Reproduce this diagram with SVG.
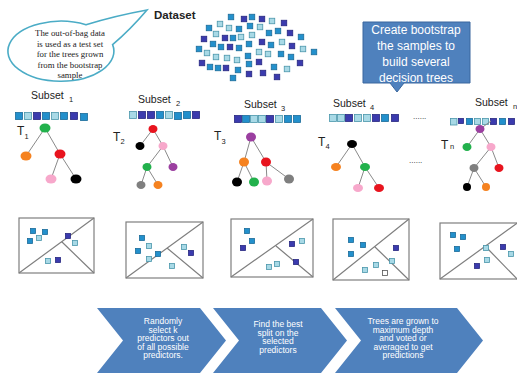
<svg xmlns="http://www.w3.org/2000/svg" width="517" height="377" viewBox="0 0 517 377">
  <style>
    .m { fill: #2390cc; stroke: #1b6c9a; stroke-width: 0.8; }
    .d { fill: #3b3bae; stroke: #272780; stroke-width: 0.8; }
    .l { fill: #a8d9e6; stroke: #4a96ab; stroke-width: 0.8; }
    .w { fill: #ffffff; stroke: #555555; stroke-width: 0.8; }
    .lbl { font-family: "Liberation Sans", Arial, sans-serif; fill: #222222; }
    .sub { font-size: 7.5px; }
    .edge { stroke: #8a8a8a; stroke-width: 1; fill: none; }
    .box { fill: #ffffff; stroke: #7f7f7f; stroke-width: 1.2; }
    .split { stroke: #7f7f7f; stroke-width: 1.2; fill: none; }
    .chev { fill: #4f81bd; }
    .wt { font-family: "Liberation Sans", Arial, sans-serif; fill: #ffffff; text-anchor: middle; }
    .green { fill: #22b14c; } .red { fill: #e8141e; } .orange { fill: #f58220; }
    .pink { fill: #f7a8cb; } .black { fill: #000000; } .purple { fill: #9b3fa0; } .grey { fill: #7f7f7f; }
  </style>

  <!-- Speech bubble -->
  <g id="oob-bubble">
    <path d="M86,24.8 A53,30 0 1 0 112.6,44.6 Q130,30 147,10 Q114,16 86,24.8 Z" fill="#ffffff" stroke="#4bacc6" stroke-width="1.6"/>
    <g font-family="Liberation Serif, 'Times New Roman', serif" font-size="8.8" fill="#222222" text-anchor="middle">
      <text x="70" y="36">The out-of-bag data</text>
      <text x="70" y="46.5">is used as a test set</text>
      <text x="70" y="57">for the trees grown</text>
      <text x="70" y="67.5">from the bootstrap</text>
      <text x="70" y="78">sample</text>
    </g>
  </g>

  <!-- Dataset cloud -->
  <g id="dataset">
    <text class="lbl" x="154" y="19" font-size="11.5" font-weight="bold">Dataset</text>
    <g transform="translate(-2.75,-2.75)">
      <rect class="m" x="231" y="17" width="5.5" height="5.5"/>
      <rect class="d" x="244" y="19" width="5.5" height="5.5"/>
      <rect class="m" x="252" y="17" width="5.5" height="5.5"/>
      <rect class="d" x="262" y="19" width="5.5" height="5.5"/>
      <rect class="l" x="272" y="21" width="5.5" height="5.5"/>
      <rect class="d" x="284" y="23" width="5.5" height="5.5"/>
      <rect class="m" x="209" y="28" width="5.5" height="5.5"/>
      <rect class="l" x="220" y="24" width="5.5" height="5.5"/>
      <rect class="l" x="229" y="28" width="5.5" height="5.5"/>
      <rect class="m" x="239" y="29" width="5.5" height="5.5"/>
      <rect class="m" x="250" y="26" width="5.5" height="5.5"/>
      <rect class="l" x="260" y="27" width="5.5" height="5.5"/>
      <rect class="m" x="278" y="31" width="5.5" height="5.5"/>
      <rect class="d" x="290" y="33" width="5.5" height="5.5"/>
      <rect class="m" x="301" y="37" width="5.5" height="5.5"/>
      <rect class="d" x="204" y="39" width="5.5" height="5.5"/>
      <rect class="l" x="216" y="34" width="5.5" height="5.5"/>
      <rect class="d" x="225" y="38" width="5.5" height="5.5"/>
      <rect class="m" x="233" y="38" width="5.5" height="5.5"/>
      <rect class="l" x="241" y="37" width="5.5" height="5.5"/>
      <rect class="l" x="252" y="35" width="5.5" height="5.5"/>
      <rect class="m" x="269" y="33" width="5.5" height="5.5"/>
      <rect class="m" x="213" y="44" width="5.5" height="5.5"/>
      <rect class="m" x="221" y="47" width="5.5" height="5.5"/>
      <rect class="d" x="230" y="47" width="5.5" height="5.5"/>
      <rect class="m" x="239" y="48" width="5.5" height="5.5"/>
      <rect class="m" x="249" y="44" width="5.5" height="5.5"/>
      <rect class="d" x="262" y="42" width="5.5" height="5.5"/>
      <rect class="m" x="271" y="45" width="5.5" height="5.5"/>
      <rect class="l" x="282" y="42" width="5.5" height="5.5"/>
      <rect class="d" x="292" y="46" width="5.5" height="5.5"/>
      <rect class="m" x="199" y="49" width="5.5" height="5.5"/>
      <rect class="l" x="207" y="53" width="5.5" height="5.5"/>
      <rect class="l" x="216" y="57" width="5.5" height="5.5"/>
      <rect class="l" x="227" y="58" width="5.5" height="5.5"/>
      <rect class="l" x="237" y="60" width="5.5" height="5.5"/>
      <rect class="m" x="248" y="56" width="5.5" height="5.5"/>
      <rect class="l" x="259" y="52" width="5.5" height="5.5"/>
      <rect class="l" x="268" y="54" width="5.5" height="5.5"/>
      <rect class="m" x="281" y="54" width="5.5" height="5.5"/>
      <rect class="m" x="291" y="57" width="5.5" height="5.5"/>
      <rect class="l" x="303" y="49" width="5.5" height="5.5"/>
      <rect class="m" x="314" y="52" width="5.5" height="5.5"/>
      <rect class="d" x="202" y="63" width="5.5" height="5.5"/>
      <rect class="m" x="210" y="67" width="5.5" height="5.5"/>
      <rect class="m" x="218" y="68" width="5.5" height="5.5"/>
      <rect class="d" x="226" y="68" width="5.5" height="5.5"/>
      <rect class="m" x="238" y="70" width="5.5" height="5.5"/>
      <rect class="m" x="249" y="64" width="5.5" height="5.5"/>
      <rect class="d" x="259" y="62" width="5.5" height="5.5"/>
      <rect class="m" x="274" y="67" width="5.5" height="5.5"/>
      <rect class="l" x="287" y="69" width="5.5" height="5.5"/>
      <rect class="d" x="300" y="63" width="5.5" height="5.5"/>
      <rect class="m" x="233" y="78" width="5.5" height="5.5"/>
      <rect class="d" x="249" y="74" width="5.5" height="5.5"/>
      <rect class="d" x="263" y="73" width="5.5" height="5.5"/>
      <rect class="d" x="277" y="77" width="5.5" height="5.5"/>
    </g>
  </g>

  <!-- Bootstrap callout -->
  <g id="bootstrap-callout">
    <path d="M363,22 H470 V83 H404 L397,92 L390,83 H363 Z" fill="#4f81bd" stroke="#3a679e" stroke-width="1"/>
    <g class="wt" font-size="12">
      <text x="416" y="34">Create bootstrap</text>
      <text x="416" y="50">the samples to</text>
      <text x="416" y="66">build several</text>
      <text x="416" y="82">decision trees</text>
    </g>
  </g>

  <!-- Subset labels and sample strips -->
  <g id="subsets">
    <g class="lbl" font-size="10.5">
      <text x="31" y="99">Subset</text><text class="sub" x="69" y="102">1</text>
      <text x="138" y="103">Subset</text><text class="sub" x="176" y="106">2</text>
      <text x="244" y="108">Subset</text><text class="sub" x="281" y="111">3</text>
      <text x="333" y="107">Subset</text><text class="sub" x="370" y="110">4</text>
      <text x="475" y="106">Subset</text><text class="sub" x="513" y="109">n</text>
    </g>
    <g transform="translate(-3.5,-3.5)">
      <rect class="m" x="19" y="116" width="7" height="7"/>
      <rect class="l" x="28" y="116" width="7" height="7"/>
      <rect class="d" x="37" y="116" width="7" height="7"/>
      <rect class="m" x="46" y="116" width="7" height="7"/>
      <rect class="l" x="55" y="116" width="7" height="7"/>
      <rect class="m" x="64" y="116" width="7" height="7"/>
      <rect class="d" x="74" y="116" width="7" height="7"/>
      <rect class="m" x="84" y="117" width="7" height="7"/>

      <rect class="l" x="133" y="115" width="7" height="7"/>
      <rect class="d" x="142" y="115" width="7" height="7"/>
      <rect class="d" x="151" y="115" width="7" height="7"/>
      <rect class="m" x="160" y="115" width="7" height="7"/>
      <rect class="l" x="169" y="115" width="7" height="7"/>
      <rect class="m" x="178" y="116" width="7" height="7"/>
      <rect class="m" x="187" y="115" width="7" height="7"/>
      <rect class="d" x="196" y="115" width="7" height="7"/>

      <rect class="d" x="238" y="119" width="7" height="7"/>
      <rect class="m" x="246" y="119" width="7" height="7"/>
      <rect class="l" x="254" y="119" width="7" height="7"/>
      <rect class="l" x="262" y="119" width="7" height="7"/>
      <rect class="d" x="270" y="119" width="7" height="7"/>
      <rect class="l" x="279" y="119" width="7" height="7"/>
      <rect class="m" x="288" y="119" width="7" height="7"/>
      <rect class="m" x="297" y="119" width="7" height="7"/>

      <rect class="l" x="333" y="118" width="7" height="7"/>
      <rect class="l" x="341" y="118" width="7" height="7"/>
      <rect class="d" x="349" y="118" width="7" height="7"/>
      <rect class="l" x="358" y="118" width="7" height="7"/>
      <rect class="l" x="367" y="118" width="7" height="7"/>
      <rect class="d" x="376" y="118" width="7" height="7"/>
      <rect class="m" x="385" y="118" width="7" height="7"/>
      <rect class="d" x="395" y="118" width="7" height="7"/>

      <rect class="l" x="454" y="122" width="6.5" height="6.5"/>
      <rect class="d" x="462" y="122" width="5" height="5"/>
      <rect class="m" x="470" y="122" width="6" height="6"/>
      <rect class="l" x="478" y="122" width="6" height="6"/>
      <rect class="l" x="486" y="122" width="6" height="6"/>
      <rect class="d" x="494" y="122" width="6" height="6"/>
      <rect class="m" x="503" y="122" width="6" height="6"/>
      <rect class="d" x="512" y="122" width="6" height="6"/>
    </g>
    <text class="lbl" x="413" y="119" font-size="8">......</text>
    <text class="lbl" x="409" y="163" font-size="8">......</text>
  </g>

  <!-- Tree labels -->
  <g id="tree-labels" class="lbl" font-size="12">
    <text x="17" y="135">T</text><text class="sub" x="24.5" y="138.5">1</text>
    <text x="113" y="141">T</text><text class="sub" x="120.5" y="144">2</text>
    <text x="214" y="140">T</text><text class="sub" x="221.5" y="143.5">3</text>
    <text x="318" y="146">T</text><text class="sub" x="325.5" y="149">4</text>
    <text x="441" y="149">T</text><text class="sub" x="450" y="149">n</text>
  </g>

  <!-- Tree branches -->
  <g id="connectors" class="edge">
    <path d="M45,128 L26,156 M45,128 L60,154 M60,154 L51,179 M60,154 L76,179"/>
    <path d="M153,129 L140,146 M153,129 L163,146 M163,146 L147,167 M163,146 L173,167 M147,167 L141,185 M147,167 L158,185"/>
    <path d="M251,137 L244,162 M251,137 L266,162 M244,162 L237,182 M244,162 L254,182 M266,162 L267,181 M266,162 L289,179"/>
    <path d="M352,144 L336,167 M352,144 L365,167 M365,167 L358,188 M365,167 L379,188"/>
    <path d="M480,129 L467,147 M480,129 L491,147 M491,147 L474,168 M491,147 L499,168 M474,168 L467,187 M474,168 L486,187 M480,129 L491,121"/>
  </g>

  <!-- Tree nodes -->
  <g id="tree-1">
    <ellipse class="green" cx="45" cy="128" rx="5.5" ry="4.5"/>
    <ellipse class="orange" cx="26" cy="156" rx="5.5" ry="4.5"/>
    <ellipse class="red" cx="60" cy="154" rx="5.5" ry="4.5"/>
    <ellipse class="pink" cx="51" cy="179" rx="5.5" ry="4.5"/>
    <ellipse class="black" cx="76" cy="179" rx="5.5" ry="4.5"/>
  </g>
  <g id="tree-2">
    <ellipse class="red" cx="153" cy="129" rx="4.5" ry="4"/>
    <ellipse class="black" cx="140" cy="146" rx="4.5" ry="4"/>
    <ellipse class="pink" cx="163" cy="146" rx="4.5" ry="4"/>
    <ellipse class="green" cx="147" cy="167" rx="4.5" ry="4"/>
    <ellipse class="purple" cx="173" cy="167" rx="4.5" ry="4"/>
    <ellipse class="grey" cx="141" cy="185" rx="4.5" ry="4"/>
    <ellipse class="orange" cx="158" cy="185" rx="4.5" ry="4"/>
  </g>
  <g id="tree-3">
    <ellipse class="purple" cx="251" cy="137" rx="5" ry="4.5"/>
    <ellipse class="orange" cx="244" cy="162" rx="5" ry="4.5"/>
    <ellipse class="red" cx="266" cy="162" rx="5" ry="4.5"/>
    <ellipse class="black" cx="237" cy="182" rx="5" ry="4.5"/>
    <ellipse class="green" cx="254" cy="182" rx="5" ry="4.5"/>
    <ellipse class="pink" cx="267" cy="181" rx="5" ry="4.5"/>
    <ellipse class="grey" cx="289" cy="179" rx="5" ry="4.5"/>
  </g>
  <g id="tree-4">
    <ellipse class="black" cx="352" cy="144" rx="5" ry="4"/>
    <ellipse class="orange" cx="336" cy="167" rx="5" ry="4"/>
    <ellipse class="green" cx="365" cy="167" rx="5" ry="4"/>
    <ellipse class="pink" cx="358" cy="188" rx="5" ry="4"/>
    <ellipse class="red" cx="379" cy="188" rx="5" ry="4"/>
  </g>
  <g id="tree-n">
    <ellipse class="purple" cx="480" cy="129" rx="4.5" ry="4"/>
    <ellipse class="green" cx="467" cy="147" rx="4.5" ry="4"/>
    <ellipse class="pink" cx="491" cy="147" rx="4.5" ry="4"/>
    <ellipse class="grey" cx="474" cy="168" rx="4.5" ry="4"/>
    <ellipse class="red" cx="499" cy="168" rx="4.5" ry="4"/>
    <ellipse class="black" cx="467" cy="187" rx="4" ry="4"/>
    <ellipse class="orange" cx="486" cy="187" rx="4" ry="4"/>
  </g>

  <!-- Partitioned feature spaces -->
  <g id="partition-1">
    <rect class="box" x="19" y="218" width="75" height="55"/>
    <path class="split" d="M19,273 L94,218 M62,242 L94,273"/>
    <g transform="translate(-2.5,-2.5)">
      <rect class="m" x="33" y="231" width="5" height="5"/>
      <rect class="m" x="45" y="232" width="5" height="5"/>
      <rect class="m" x="30" y="241" width="5" height="5"/>
      <rect class="l" x="39" y="238" width="5" height="5"/>
      <rect class="d" x="68" y="236" width="5" height="5"/>
      <rect class="l" x="75" y="243" width="5" height="5"/>
      <rect class="l" x="48" y="261" width="5" height="5"/>
      <rect class="d" x="58" y="260" width="5" height="5"/>
    </g>
  </g>
  <g id="partition-2">
    <rect class="box" x="126" y="222" width="77" height="56"/>
    <path class="split" d="M126,278 L203,222 M167,248 L203,278"/>
    <g transform="translate(-2.5,-2.5)">
      <rect class="m" x="142" y="238" width="5" height="5"/>
      <rect class="l" x="149" y="246" width="5" height="5"/>
      <rect class="m" x="138" y="251" width="5" height="5"/>
      <rect class="m" x="158" y="254" width="5" height="5"/>
      <rect class="l" x="149" y="259" width="5" height="5"/>
      <rect class="l" x="184" y="247" width="5" height="5"/>
      <rect class="d" x="191" y="253" width="5" height="5"/>
      <rect class="l" x="172" y="266" width="5" height="5"/>
    </g>
  </g>
  <g id="partition-3">
    <rect class="box" x="231" y="219" width="82" height="58"/>
    <path class="split" d="M231,277 L313,219 M276,246 L313,277"/>
    <g transform="translate(-2.5,-2.5)">
      <rect class="m" x="247" y="231" width="5" height="5"/>
      <rect class="m" x="252" y="241" width="5" height="5"/>
      <rect class="d" x="243" y="248" width="5" height="5"/>
      <rect class="d" x="292" y="244" width="5" height="5"/>
      <rect class="l" x="302" y="241" width="5" height="5"/>
      <rect class="d" x="296" y="262" width="5" height="5"/>
      <rect class="l" x="269" y="267" width="5" height="5"/>
      <rect class="l" x="277" y="264" width="5" height="5"/>
    </g>
  </g>
  <g id="partition-4">
    <rect class="box" x="333" y="219" width="76" height="61"/>
    <path class="split" d="M333,280 L409,219 M375,247 L409,280"/>
    <g transform="translate(-2.5,-2.5)">
      <rect class="m" x="351" y="240" width="5" height="5"/>
      <rect class="m" x="363" y="245" width="5" height="5"/>
      <rect class="m" x="351" y="254" width="5" height="5"/>
      <rect class="d" x="396" y="248" width="5" height="5"/>
      <rect class="l" x="392" y="261" width="5" height="5"/>
      <rect class="l" x="365" y="270" width="5" height="5"/>
      <rect class="l" x="376" y="265" width="5" height="5"/>
      <rect class="w" x="385" y="273" width="5" height="5"/>
    </g>
  </g>
  <g id="partition-n">
    <rect class="box" x="440" y="223" width="80" height="56"/>
    <path class="split" d="M440,279 L518,222.5 M487,248 L518,280"/>
    <g transform="translate(-2.5,-2.5)">
      <rect class="m" x="453" y="235" width="5" height="5"/>
      <rect class="m" x="463" y="237" width="5" height="5"/>
      <rect class="m" x="457" y="249" width="5" height="5"/>
      <rect class="l" x="486" y="248" width="5" height="5"/>
      <rect class="l" x="487" y="260" width="5" height="5"/>
      <rect class="d" x="477" y="266" width="5" height="5"/>
      <rect class="d" x="503" y="247" width="5" height="5"/>
      <rect class="l" x="511" y="254" width="5" height="5"/>
    </g>
  </g>

  <!-- Process chevrons -->
  <g id="step-1">
    <path class="chev" d="M97,308 H200 L226,340.5 L200,373 H97 L123,340.5 Z"/>
    <g class="wt" font-size="8.5">
      <text x="163" y="324">Randomly</text>
      <text x="163" y="332.6">select k</text>
      <text x="163" y="341.2">predictors out</text>
      <text x="163" y="349.8">of all possible</text>
      <text x="163" y="358.4">predictors.</text>
    </g>
  </g>
  <g id="step-2">
    <path class="chev" d="M213,308 H321 L347,340.5 L321,373 H213 L239,340.5 Z"/>
    <g class="wt" font-size="8.5">
      <text x="278" y="327">Find the best</text>
      <text x="278" y="335.6">split on the</text>
      <text x="278" y="344.2">selected</text>
      <text x="278" y="352.8">predictors</text>
    </g>
  </g>
  <g id="step-3">
    <path class="chev" d="M335,308 H457 L483,340.5 L457,373 H335 L361,340.5 Z"/>
    <g class="wt" font-size="8.5">
      <text x="403" y="324">Trees are grown to</text>
      <text x="403" y="332.6">maximum depth</text>
      <text x="403" y="341.2">and voted or</text>
      <text x="403" y="349.8">averaged to get</text>
      <text x="403" y="358.4">predictions</text>
    </g>
  </g>
</svg>
